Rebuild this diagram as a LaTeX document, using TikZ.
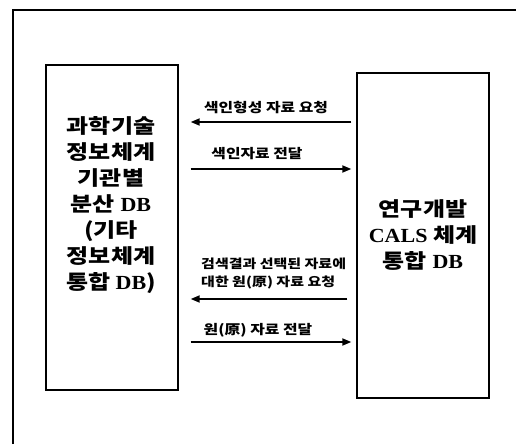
\documentclass[tikz,border=0pt]{standalone}
\usepackage{fontspec}
\newfontfamily\kr{Noto Sans CJK KR}[FakeStretch=1.2]
\newfontfamily\lat{Liberation Serif}[FakeStretch=1.1]
\usetikzlibrary{arrows.meta}
\tikzset{
  frame/.style={line width=2pt},
  dbbox/.style={draw, line width=1.4pt, minimum width=132pt, minimum height=325pt, inner sep=0pt},
  boxtext/.style={align=center, font=\kr\bfseries\fontsize{20}{26}\selectfont},
  lbl/.style={font=\kr\bfseries\fontsize{13.2}{18}\selectfont, inner sep=0pt},
  arr/.style={line width=1.8pt, -{Triangle[length=9pt,width=7pt]}},
}
\begin{document}
\begin{tikzpicture}[x=1pt,y=-1pt]
\useasboundingbox (0,0) rectangle (516,444);
\draw[frame] (13,444) -- (13,10) -- (516,10);
\node[dbbox] (L) at (112,227.5) {};
\node[boxtext] (Ltext) at (111,205) {과학기술\\정보체계\\기관별\\분산 {\lat DB}\\(기타\\정보체계\\통합 {\lat DB})};
\node[dbbox] (R) at (423,235.5) {};
\node[boxtext] (Rtext) at (R.center) {연구개발\\{\lat CALS} 체계\\통합 {\lat DB}};
% arrows
\draw[arr, shorten <=5pt, shorten >=12pt] (R.west |- 0,122) -- (L.east |- 0,122);
\node[lbl] (a1) at (266,108) {색인형성 자료 요청};
\draw[arr, shorten <=12pt, shorten >=5pt] (L.east |- 0,169) -- (R.west |- 0,169);
\node[lbl] (a2) at (257,154) {색인자료 전달};
\draw[arr, shorten <=9pt, shorten >=12pt] (R.west |- 0,299) -- (L.east |- 0,299);
\node[lbl, align=left, anchor=west, font=\kr\bfseries\fontsize{12.5}{18}\selectfont] (a3) at (201,273) {검색결과 선택된 자료에\\대한 원(原) 자료 요청};
\draw[arr, shorten <=12pt, shorten >=5pt] (L.east |- 0,342) -- (R.west |- 0,342);
\node[lbl] (a4) at (258,330) {원(原) 자료 전달};
\end{tikzpicture}
\end{document}
